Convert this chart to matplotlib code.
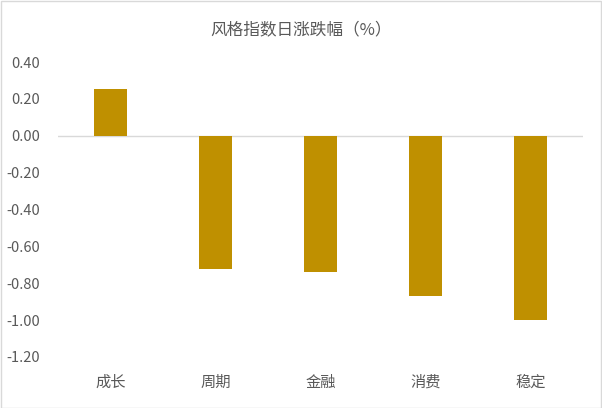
import matplotlib
matplotlib.use("Agg")
import matplotlib.pyplot as plt
from matplotlib.patches import Rectangle

plt.rcParams['font.family'] = ['Noto Sans CJK SC', 'DejaVu Sans']

categories = ["成长", "周期", "金融", "消费", "稳定"]
values = [0.255, -0.72, -0.74, -0.87, -1.00]
yticks = [0.40, 0.20, 0.00, -0.20, -0.40, -0.60, -0.80, -1.00, -1.20]

fig = plt.figure(figsize=(6.02, 4.08), dpi=100)
ax = fig.add_axes([0.0963, 0.125, 0.872, 0.723])

x = range(len(categories))
ax.bar(x, values, width=0.31, color="#BF9000", zorder=2)
ax.axhline(0, color="#D9D9D9", lw=1, zorder=1)

ax.set_xlim(-0.5, len(categories) - 0.5)
ax.set_ylim(-1.2, 0.4)
ax.set_yticks(yticks)
ax.set_yticklabels([f"{v:.2f}" for v in yticks])
ax.set_xticks(list(x))
ax.set_xticklabels(categories)
ax.tick_params(axis="y", length=0, pad=13, labelsize=10.5, labelcolor="#595959")
ax.tick_params(axis="x", length=0, pad=12, labelsize=11, labelcolor="#595959")
for s in ax.spines.values():
    s.set_visible(False)

fig.text(0.5, 0.926, "风格指数日涨跌幅（%）", ha="center", va="center",
         fontsize=12, color="#595959")

# light border around the chart
fig.patches.append(Rectangle((0.001, 0.001), 0.998, 0.997, transform=fig.transFigure,
                             fill=False, edgecolor="#D9D9D9", lw=1))

fig.savefig("out.png", dpi=100)
